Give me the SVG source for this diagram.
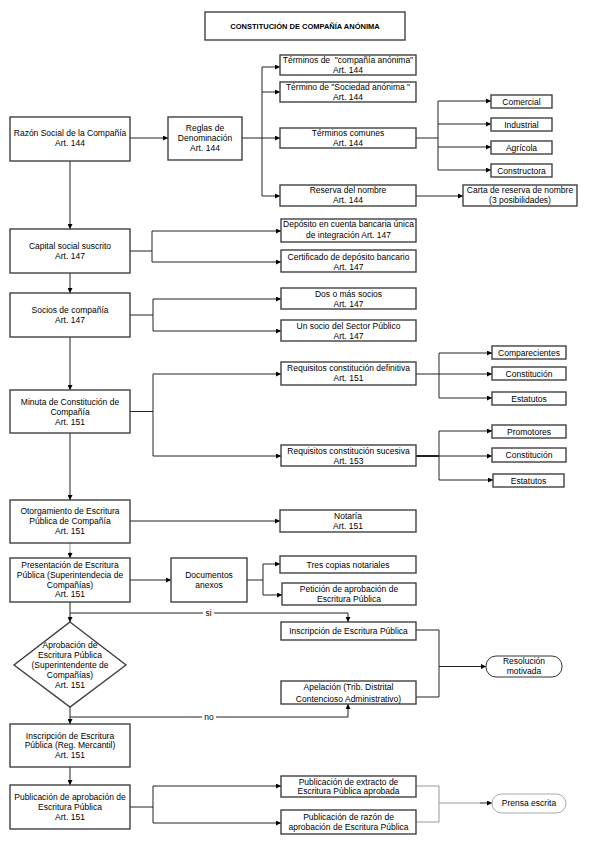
<svg xmlns="http://www.w3.org/2000/svg" width="595" height="842" viewBox="0 0 595 842">
<style>
.box{fill:#fff;stroke:#404040;stroke-width:1.4}
.pill{fill:#fff;stroke:#333;stroke-width:1}
.pill2{fill:#fff;stroke:#aaa;stroke-width:1}
.t{font-family:"Liberation Sans",Arial,sans-serif;font-size:8.5px;text-anchor:middle;fill:#000}
.title{font-family:"Liberation Sans",Arial,sans-serif;font-size:7.5px;font-weight:bold;text-anchor:middle;fill:#000}
.ln{fill:none;stroke:#222;stroke-width:1}
.lg{fill:none;stroke:#999;stroke-width:1}
.lt{fill:none;stroke:#222;stroke-width:2}
.lab{font-family:"Liberation Sans",Arial,sans-serif;font-size:8.5px;text-anchor:middle;fill:#000}
</style>
<defs>
<marker id="ar" viewBox="0 0 6 6" refX="6" refY="3" markerWidth="5" markerHeight="5" markerUnits="userSpaceOnUse" orient="auto">
<path d="M0,0 L6,3 L0,6 z" fill="#000"/>
</marker>
</defs>
<rect width="595" height="842" fill="#fff"/>

<g id="title">
<rect class="box" x="205" y="12" width="200" height="28"/>
<text class="title" x="305" y="28.5">CONSTITUCIÓN DE COMPAÑÍA ANÓNIMA</text>
</g>

<g id="connectors">
<path class="ln" d="M130,138 H168" marker-end="url(#ar)"/>
<path class="ln" d="M242,138 H262 M262,67 V196"/>
<path class="ln" d="M262,67 H280" marker-end="url(#ar)"/>
<path class="ln" d="M262,92 H280" marker-end="url(#ar)"/>
<path class="ln" d="M262,138 H280" marker-end="url(#ar)"/>
<path class="ln" d="M262,196 H280" marker-end="url(#ar)"/>
<path class="ln" d="M416,138 H438 M438,101 V170"/>
<path class="ln" d="M438,101 H491" marker-end="url(#ar)"/>
<path class="ln" d="M438,124 H491" marker-end="url(#ar)"/>
<path class="ln" d="M438,147 H491" marker-end="url(#ar)"/>
<path class="ln" d="M438,170 H491" marker-end="url(#ar)"/>
<path class="ln" d="M416,196 H463" marker-end="url(#ar)"/>

<path class="ln" d="M70,161 V229" marker-end="url(#ar)"/>
<path class="ln" d="M130,251 H152 M152,231 V262"/>
<path class="ln" d="M152,231 H281" marker-end="url(#ar)"/>
<path class="ln" d="M152,262 H281" marker-end="url(#ar)"/>

<path class="ln" d="M70,273 V293" marker-end="url(#ar)"/>
<path class="ln" d="M130,315 H153 M153,299 V331"/>
<path class="ln" d="M153,299 H281" marker-end="url(#ar)"/>
<path class="ln" d="M153,331 H281" marker-end="url(#ar)"/>

<path class="ln" d="M70,337 V390" marker-end="url(#ar)"/>
<path class="ln" d="M130,411.5 H153 M153,374 V456"/>
<path class="ln" d="M153,374 H281" marker-end="url(#ar)"/>
<path class="ln" d="M153,456 H281" marker-end="url(#ar)"/>
<path class="ln" d="M416,374 H439 M439,353 V398"/>
<path class="ln" d="M439,353 H492" marker-end="url(#ar)"/>
<path class="ln" d="M439,374 H492" marker-end="url(#ar)"/>
<path class="ln" d="M439,398 H492" marker-end="url(#ar)"/>
<path class="lt" d="M416,456 H439"/>
<path class="ln" d="M439,431 V480"/>
<path class="ln" d="M439,431 H492" marker-end="url(#ar)"/>
<path class="ln" d="M439,456 H492" marker-end="url(#ar)"/>
<path class="ln" d="M439,480 H493" marker-end="url(#ar)"/>

<path class="ln" d="M70,433 V500" marker-end="url(#ar)"/>
<path class="ln" d="M130,521 H280" marker-end="url(#ar)"/>

<path class="lg" d="M70,543 V552"/>
<path class="ln" d="M70,552 V558" marker-end="url(#ar)"/>
<path class="ln" d="M130,580 H171" marker-end="url(#ar)"/>
<path class="ln" d="M247,580 H263 M263,564 V595"/>
<path class="ln" d="M263,564 H280" marker-end="url(#ar)"/>
<path class="ln" d="M263,595 H282" marker-end="url(#ar)"/>

<path class="ln" d="M70,602 V622" marker-end="url(#ar)"/>
<path class="ln" d="M70,613 H348 V622" marker-end="url(#ar)"/>
<path class="ln" d="M70,707 V724" marker-end="url(#ar)"/>
<path class="ln" d="M70,717 H348 V704" marker-end="url(#ar)"/>

<path class="ln" d="M416,630 H439 V697 H416"/>
<path class="ln" d="M439,666.5 H486" marker-end="url(#ar)"/>

<path class="ln" d="M70,767 V785" marker-end="url(#ar)"/>
<path class="ln" d="M130,807 H153 M153,786 V823"/>
<path class="ln" d="M153,786 H281" marker-end="url(#ar)"/>
<path class="ln" d="M153,823 H281" marker-end="url(#ar)"/>
<path class="lg" d="M416,786 H439 V822 H416 M439,803 H480"/>
<path class="ln" d="M480,803 H492" marker-end="url(#ar)"/>

<rect x="203" y="608" width="11" height="10" fill="#fff"/>
<text class="lab" x="208.5" y="616">si</text>
<rect x="202" y="712" width="14" height="10" fill="#fff"/>
<text class="lab" x="209" y="720">no</text>
</g>

<g id="n1"><rect class="box" x="10" y="117" width="120" height="44"/>
<text class="t" x="70" y="136">Razón Social de la Compañía</text><text class="t" x="70" y="145.5">Art. 144</text></g>
<g id="n2"><rect class="box" x="168" y="117" width="74" height="43"/>
<text class="t" x="205" y="131">Reglas de</text><text class="t" x="205" y="141">Denominación</text><text class="t" x="205" y="151">Art. 144</text></g>
<g id="n3"><rect class="box" x="280" y="55" width="136" height="20"/>
<text class="t" x="348" y="63" xml:space="preserve">Términos de  "compañía anónima"</text><text class="t" x="348" y="72.5">Art. 144</text></g>
<g id="n4"><rect class="box" x="280" y="82" width="136" height="20"/>
<text class="t" x="348" y="90">Término de "Sociedad anónima "</text><text class="t" x="348" y="99.5">Art. 144</text></g>
<g id="n5"><rect class="box" x="280" y="128" width="136" height="20"/>
<text class="t" x="348" y="136">Términos comunes</text><text class="t" x="348" y="145.5">Art. 144</text></g>
<g id="n6"><rect class="box" x="491" y="95" width="61" height="13"/>
<text class="t" x="521.5" y="104.5">Comercial</text></g>
<g id="n7"><rect class="box" x="491" y="118" width="61" height="13"/>
<text class="t" x="521.5" y="127.5">Industrial</text></g>
<g id="n8"><rect class="box" x="491" y="141" width="61" height="13"/>
<text class="t" x="521.5" y="150.5">Agrícola</text></g>
<g id="n9"><rect class="box" x="491" y="164" width="61" height="13"/>
<text class="t" x="521.5" y="173.5">Constructora</text></g>
<g id="n10"><rect class="box" x="280" y="185" width="136" height="21"/>
<text class="t" x="348" y="193">Reserva del nombre</text><text class="t" x="348" y="202.5">Art. 144</text></g>
<g id="n11"><rect class="box" x="463" y="185" width="114" height="21"/>
<text class="t" x="520" y="193">Carta de reserva de nombre</text><text class="t" x="520" y="202.5">(3 posibilidades)</text></g>

<g id="n12"><rect class="box" x="10" y="229" width="120" height="44"/>
<text class="t" x="70" y="249">Capital social suscrito</text><text class="t" x="70" y="259">Art. 147</text></g>
<g id="n13"><rect class="box" x="281" y="219" width="135" height="23"/>
<text class="t" x="348.5" y="227">Depósito en cuenta bancaria única</text><text class="t" x="348.5" y="238">de integración Art. 147</text></g>
<g id="n14"><rect class="box" x="281" y="250" width="135" height="22"/>
<text class="t" x="348.5" y="259.5">Certificado de depósito bancario</text><text class="t" x="348.5" y="269.5">Art. 147</text></g>

<g id="n15"><rect class="box" x="10" y="293" width="120" height="44"/>
<text class="t" x="70" y="313">Socios de compañía</text><text class="t" x="70" y="323">Art. 147</text></g>
<g id="n16"><rect class="box" x="281" y="288" width="135" height="21"/>
<text class="t" x="348.5" y="297">Dos o más socios</text><text class="t" x="348.5" y="307">Art. 147</text></g>
<g id="n17"><rect class="box" x="281" y="320" width="135" height="21"/>
<text class="t" x="348.5" y="329">Un socio del Sector Público</text><text class="t" x="348.5" y="339">Art. 147</text></g>

<g id="n18"><rect class="box" x="10" y="390" width="120" height="43"/>
<text class="t" x="70" y="405">Minuta de Constitución de</text><text class="t" x="70" y="415">Compañía</text><text class="t" x="70" y="425">Art. 151</text></g>
<g id="n19"><rect class="box" x="281" y="362" width="135" height="23"/>
<text class="t" x="348.5" y="371">Requisitos constitución definitiva</text><text class="t" x="348.5" y="381">Art. 151</text></g>
<g id="n20"><rect class="box" x="492" y="346" width="74" height="13"/>
<text class="t" x="529" y="355.5">Comparecientes</text></g>
<g id="n21"><rect class="box" x="492" y="367" width="74" height="13"/>
<text class="t" x="529" y="376.5">Constitución</text></g>
<g id="n22"><rect class="box" x="492" y="392" width="74" height="13"/>
<text class="t" x="529" y="401.5">Estatutos</text></g>
<g id="n23"><rect class="box" x="281" y="445" width="135" height="21"/>
<text class="t" x="348.5" y="453.5">Requisitos constitución sucesiva</text><text class="t" x="348.5" y="463.5">Art. 153</text></g>
<g id="n24"><rect class="box" x="492" y="425" width="74" height="13"/>
<text class="t" x="529" y="434.5">Promotores</text></g>
<g id="n25"><rect class="box" x="492" y="448" width="74" height="14"/>
<text class="t" x="529" y="458">Constitución</text></g>
<g id="n26"><rect class="box" x="493" y="474" width="71" height="13"/>
<text class="t" x="528.5" y="483.5">Estatutos</text></g>

<g id="n27"><rect class="box" x="10" y="500" width="120" height="43"/>
<text class="t" x="70" y="514">Otorgamiento de Escritura</text><text class="t" x="70" y="524">Pública de Compañía</text><text class="t" x="70" y="534">Art. 151</text></g>
<g id="n28"><rect class="box" x="280" y="510" width="136" height="22"/>
<text class="t" x="348" y="519">Notaría</text><text class="t" x="348" y="529">Art. 151</text></g>

<g id="n29"><rect class="box" x="10" y="558" width="120" height="44"/>
<text class="t" x="70" y="568">Presentación de Escritura</text><text class="t" x="70" y="578">Pública (Superintendecia de</text><text class="t" x="70" y="587.5">Compañías)</text><text class="t" x="70" y="597">Art. 151</text></g>
<g id="n30"><rect class="box" x="171" y="558" width="76" height="44"/>
<text class="t" x="209" y="578">Documentos</text><text class="t" x="209" y="588">anexos</text></g>
<g id="n31"><rect class="box" x="280" y="556" width="136" height="17"/>
<text class="t" x="348" y="567.5">Tres copias notariales</text></g>
<g id="n32"><rect class="box" x="282" y="583" width="134" height="22"/>
<text class="t" x="349" y="592">Petición de aprobación de</text><text class="t" x="349" y="602">Escritura Pública</text></g>

<g id="n33"><polygon class="box" points="70,622 126,665 70,707 14,665"/>
<text class="t" x="70" y="648">Aprobación de</text><text class="t" x="70" y="658">Escritura Pública</text><text class="t" x="70" y="668">(Superintendente de</text><text class="t" x="70" y="677.5">Compañías)</text><text class="t" x="70" y="687.5">Art. 151</text></g>
<g id="n34"><rect class="box" x="281" y="622" width="135" height="18"/>
<text class="t" x="348.5" y="633.5">Inscripción de Escritura Pública</text></g>
<g id="n35"><rect class="box" x="281" y="681" width="135" height="23"/>
<text class="t" x="348.5" y="689.5">Apelación (Trib. Distrital</text><text class="t" x="348.5" y="701.5">Contencioso Administrativo)</text></g>
<g id="n36"><rect class="pill" x="486" y="656" width="76" height="21" rx="10" ry="10"/>
<text class="t" x="524" y="663.5">Resolución</text><text class="t" x="524" y="674">motivada</text></g>

<g id="n37"><rect class="box" x="10" y="724" width="120" height="43"/>
<text class="t" x="70" y="738.5">Inscripción de Escritura</text><text class="t" x="70" y="748">Pública (Reg. Mercantil)</text><text class="t" x="70" y="758">Art. 151</text></g>
<g id="n38"><rect class="box" x="10" y="785" width="120" height="44"/>
<text class="t" x="70" y="799.5">Publicación de aprobación de</text><text class="t" x="70" y="809.5">Escritura Pública</text><text class="t" x="70" y="819.5">Art. 151</text></g>
<g id="n39"><rect class="box" x="281" y="776" width="135" height="21"/>
<text class="t" x="348.5" y="784.5">Publicación de extracto de</text><text class="t" x="348.5" y="794">Escritura Pública aprobada</text></g>
<g id="n40"><rect class="box" x="281" y="810" width="135" height="24"/>
<text class="t" x="348.5" y="819.5">Publicación de razón de</text><text class="t" x="348.5" y="829.5">aprobación de Escritura Pública</text></g>
<g id="n41"><rect class="pill2" x="492" y="794" width="74" height="19" rx="9.5" ry="9.5"/>
<text class="t" x="529" y="806">Prensa escrita</text></g>
</svg>
